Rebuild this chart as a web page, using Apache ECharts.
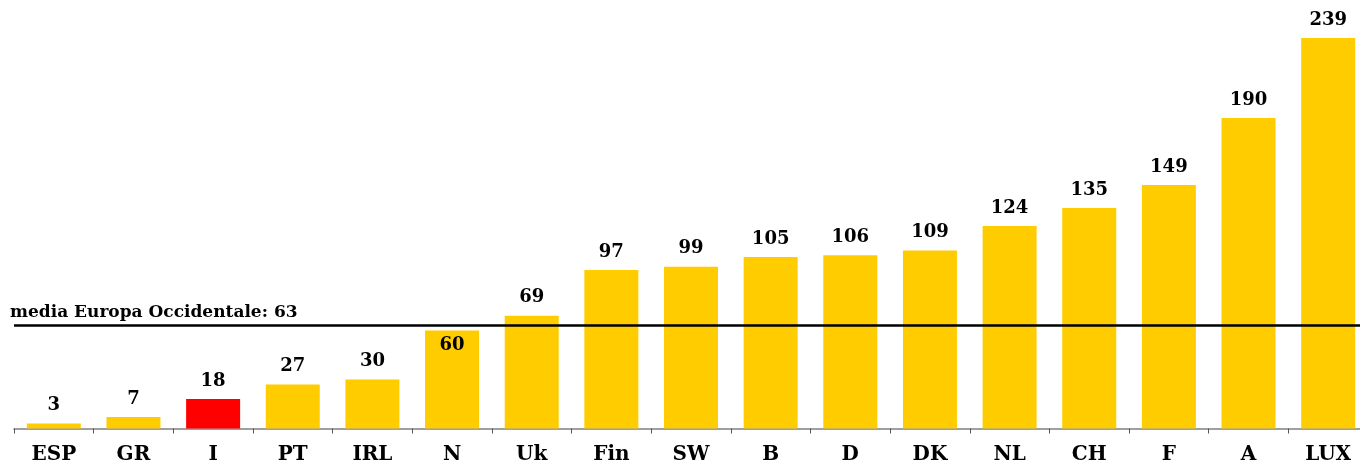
<!DOCTYPE html>
<html>
<head>
<meta charset="utf-8">
<script src="https://cdn.jsdelivr.net/npm/echarts@6/dist/echarts.min.js"></script>
<style>
    html, body { margin: 0; padding: 0; background: #fff; overflow: hidden; }
    /* il grafico originale e' tagliato a destra: il contenitore esce un po' dalla pagina */
    #chart { width: 1368px; height: 466px; }
</style>
</head>
<body>
<div id="chart"></div>
<script>
const countries = ['ESP', 'GR', 'I', 'PT', 'IRL', 'N', 'Uk', 'Fin', 'SW', 'B', 'D', 'DK', 'NL', 'CH', 'F', 'A', 'LUX']
const values = [3, 7, 18, 27, 30, 60, 69, 97, 99, 105, 106, 109, 124, 135, 149, 190, 239]
const mediaValue = 63
const mediaLabel = 'media Europa Occidentale: ' + mediaValue
const highlight = 'I'

const FONT = 'DejaVu Serif'

// bar data, Italia in rosso, N con etichetta dentro la barra
const barData = values.map((v, i) => {
    let item = { value: v }
    if (countries[i] === highlight) {
        item.itemStyle = { color: '#FF0000' }
    }
    if (v < mediaValue && v > mediaValue - 8) {
        item.label = { position: 'insideTop', distance: 6 }
    }
    return item
})

var myChart = echarts.init(document.getElementById('chart'))
var option = {
    animation: false,
    grid: {
        left: 14,
        right: 0,
        top: 20,
        bottom: 37.5,
        outerBoundsMode: 'none'
    },
    xAxis: {
        type: 'category',
        data: countries,
        axisLine: { lineStyle: { color: '#808080', width: 1.5 } },
        axisTick: { show: true, length: 5, lineStyle: { color: '#555' } },
        axisLabel: {
            margin: 16,
            color: '#000',
            fontFamily: FONT,
            fontWeight: 'bold',
            fontSize: 20
        }
    },
    yAxis: {
        type: 'value',
        min: 0,
        max: 250,
        show: false,
        splitLine: { show: false }
    },
    series: [{
        type: 'bar',
        data: barData,
        barWidth: 54,
        itemStyle: { color: '#FFCC00' },
        label: {
            show: true,
            position: 'top',
            distance: 9,
            color: '#000',
            fontFamily: FONT,
            fontWeight: 'bold',
            fontSize: 18
        },
        markLine: {
            silent: true,
            symbol: 'none',
            lineStyle: { color: '#000', width: 2.5, type: 'solid' },
            label: {
                show: true,
                position: 'insideStartTop',
                formatter: mediaLabel,
                color: '#000',
                fontFamily: FONT,
                fontWeight: 'bold',
                fontSize: 17,
                offset: [-9, 1]
            },
            data: [{ yAxis: mediaValue }]
        }
    }]
}
option && myChart.setOption(option)
</script>
</body>
</html>
